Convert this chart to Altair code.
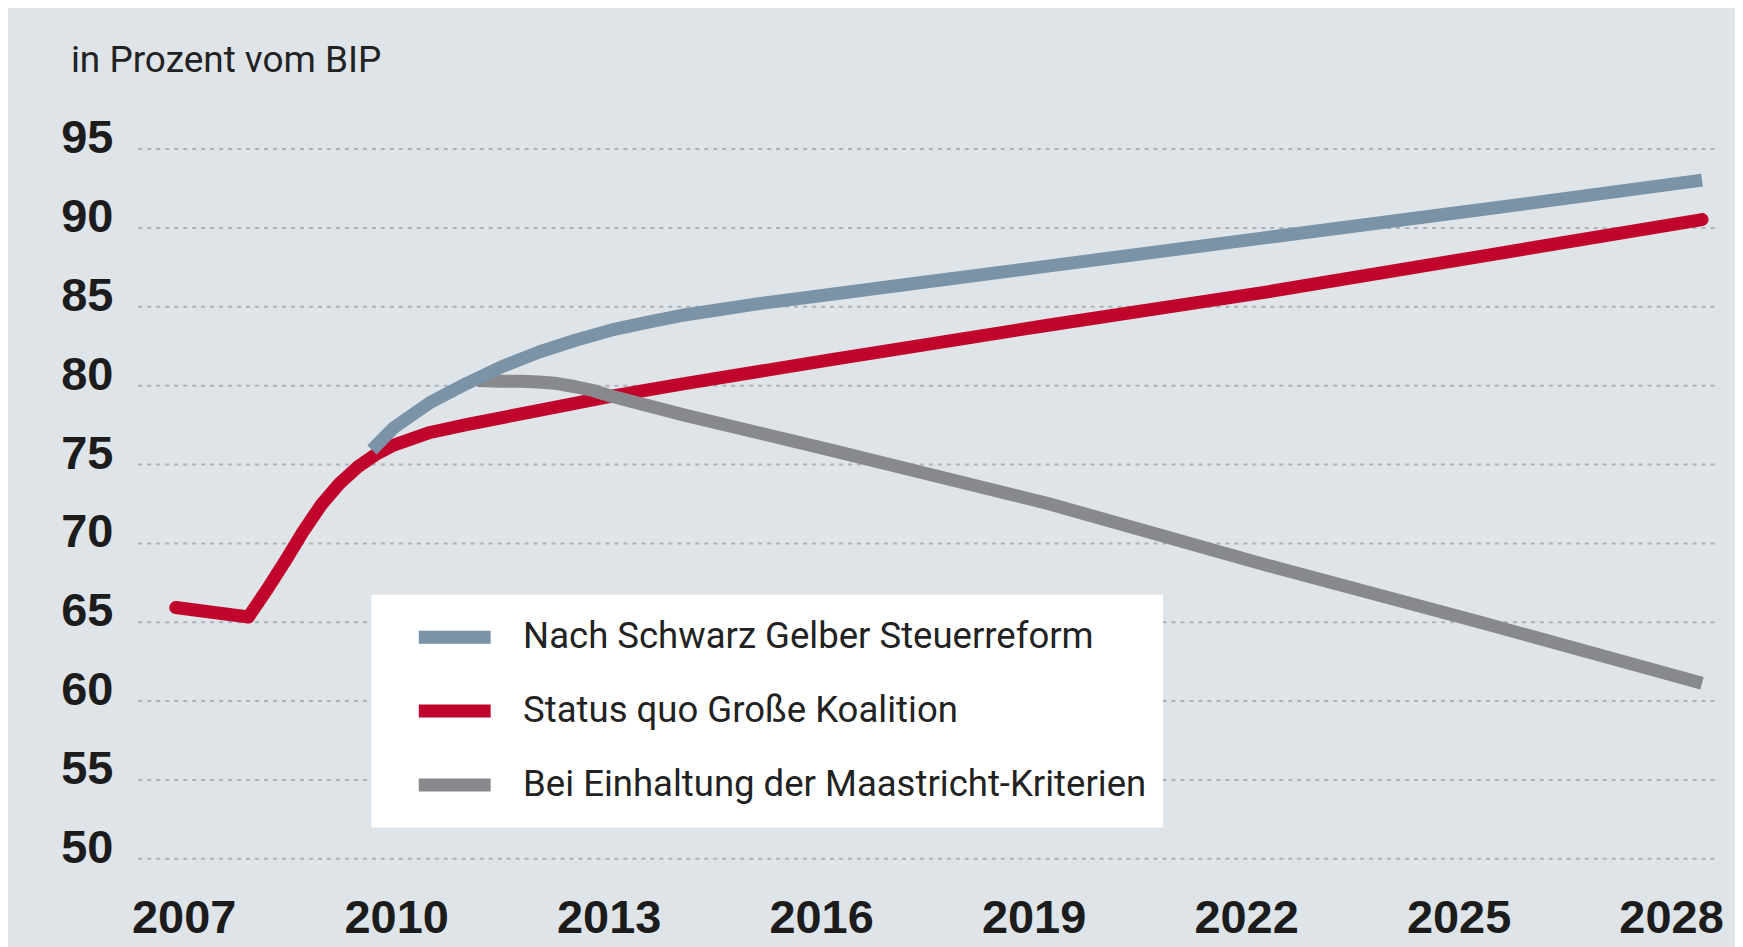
import altair as alt
import pandas as pd

# ---- data ----
series_names = [
    "Nach Schwarz Gelber Steuerreform",
    "Status quo Große Koalition",
    "Bei Einhaltung der Maastricht-Kriterien",
]
series_colors = ["#7b93a7", "#c0042c", "#87898c"]

blue_years = [2009.7, 2010, 2010.5, 2011, 2011.5, 2012, 2012.5, 2013, 2013.5, 2014, 2015, 2016, 2017,
              2019, 2022, 2025, 2028]
blue_values = [75.9, 77.3, 78.9, 80.1, 81.2, 82.1, 82.85, 83.5, 84.0, 84.45, 85.15, 85.75, 86.35,
               87.55, 89.35, 91.15, 93.0]

red_years = [2007, 2008, 2008.25, 2008.5, 2008.75, 2009, 2009.25, 2009.5, 2009.75, 2010,
             2010.5, 2011, 2012, 2013, 2014, 2016, 2019, 2022, 2025, 2028]
red_values = [65.9, 65.3, 67.0, 68.8, 70.7, 72.4, 73.75, 74.8, 75.6, 76.2,
              77.0, 77.5, 78.4, 79.3, 80.1, 81.6, 83.8, 85.9, 88.2, 90.5]

gray_years = [2011.15, 2011.5, 2011.75, 2012, 2012.25, 2012.5, 2012.75, 2013, 2014, 2015, 2016,
              2019, 2022, 2025, 2028]
gray_values = [80.3, 80.25, 80.25, 80.2, 80.1, 79.9, 79.65, 79.3, 78.1, 77.0, 75.9,
               72.5, 68.6, 64.9, 61.1]

y_ticks = [50, 55, 60, 65, 70, 75, 80, 85, 90, 95]
x_tick_years = [2007, 2010, 2013, 2016, 2019, 2022, 2025, 2028]

# ---- tables ----
rows = []
for name, yrs, vals in [
    (series_names[0], blue_years, blue_values),
    (series_names[1], red_years, red_values),
    (series_names[2], gray_years, gray_values),
]:
    for yr, v in zip(yrs, vals):
        rows.append({"series": name, "year": yr, "value": v})
df = pd.DataFrame(rows)
ticks_df = pd.DataFrame({"year": x_tick_years})

TEXT_FONT = "Roboto, Liberation Sans, sans-serif"
BOLD = "Liberation Sans, Arial, sans-serif"

line_scale = alt.Scale(domain=[2006.478, 2028.165], nice=False, zero=False)
label_scale = alt.Scale(domain=[2006.352, 2028.607], nice=False, zero=False)
y_scale = alt.Scale(domain=[50, 95], nice=False, zero=False)

base = alt.Chart(df).encode(
    x=alt.X("year:Q", scale=line_scale, axis=None),
    y=alt.Y(
        "value:Q",
        scale=y_scale,
        axis=alt.Axis(
            values=y_ticks,
            title=None,
            domain=False,
            ticks=False,
            tickSize=0,
            grid=True,
            gridColor="#aab3bc",
            gridDash=[4, 5],
            gridWidth=2,
            labelFont=BOLD,
            labelFontWeight="bold",
            labelFontSize=47,
            labelColor="#1c1c1c",
            labelPadding=25,
            labelBaseline="alphabetic",
            labelOffset=4,
        ),
    ),
    color=alt.Color(
        "series:N",
        scale=alt.Scale(domain=series_names, range=series_colors),
        legend=alt.Legend(
            title=None,
            orient="none",
            legendX=234,
            legendY=447,
            fillColor="#ffffff",
            padding=16,
            symbolType="M-1.8,0H1.8",
            symbolSize=1600,
            symbolStrokeWidth=13,
            symbolOffset=41,
            labelOffset=42,
            rowPadding=21,
            labelFont=TEXT_FONT,
            labelFontSize=36.6,
            labelColor="#222222",
            labelLimit=2000,
        ),
    ),
)

red = base.transform_filter(alt.datum.series == series_names[1]).mark_line(
    strokeWidth=13, strokeCap="round", strokeJoin="round"
)
gray = base.transform_filter(alt.datum.series == series_names[2]).mark_line(
    strokeWidth=13, strokeCap="butt", strokeJoin="round"
)
blue = base.transform_filter(alt.datum.series == series_names[0]).mark_line(
    strokeWidth=13, strokeCap="butt", strokeJoin="round"
)

x_axis_layer = alt.Chart(ticks_df).mark_rule(opacity=0).encode(
    x=alt.X(
        "year:Q",
        scale=label_scale,
        axis=alt.Axis(
            values=x_tick_years,
            format="d",
            title=None,
            orient="bottom",
            domain=False,
            ticks=False,
            tickSize=0,
            grid=False,
            labelFont=BOLD,
            labelFontWeight="bold",
            labelFontSize=47,
            labelColor="#1c1c1c",
            labelPadding=74,
            labelBaseline="alphabetic",
            labelFlush=False,
            labelOverlap=False,
        ),
    )
)

chart = (
    alt.layer(red, gray, blue, x_axis_layer)
    .resolve_scale(x="independent")
    .properties(
        width=1579,
        height=711,
        title=alt.TitleParams(
            text="in Prozent vom BIP",
            anchor="start",
            frame="group",
            dx=-67,
            offset=6,
            baseline="alphabetic",
            font=TEXT_FONT,
            fontSize=37,
            fontWeight="normal",
            color="#222222",
        ),
        autosize=alt.AutoSizeParams(type="none"),
        padding={"left": 130, "top": 140, "right": 21, "bottom": 88},
    )
    .configure(background="#dfe4e9")
    .configure_view(stroke="transparent")
)

chart.save("out.html", embed_options={"renderer": "svg", "actions": False})
